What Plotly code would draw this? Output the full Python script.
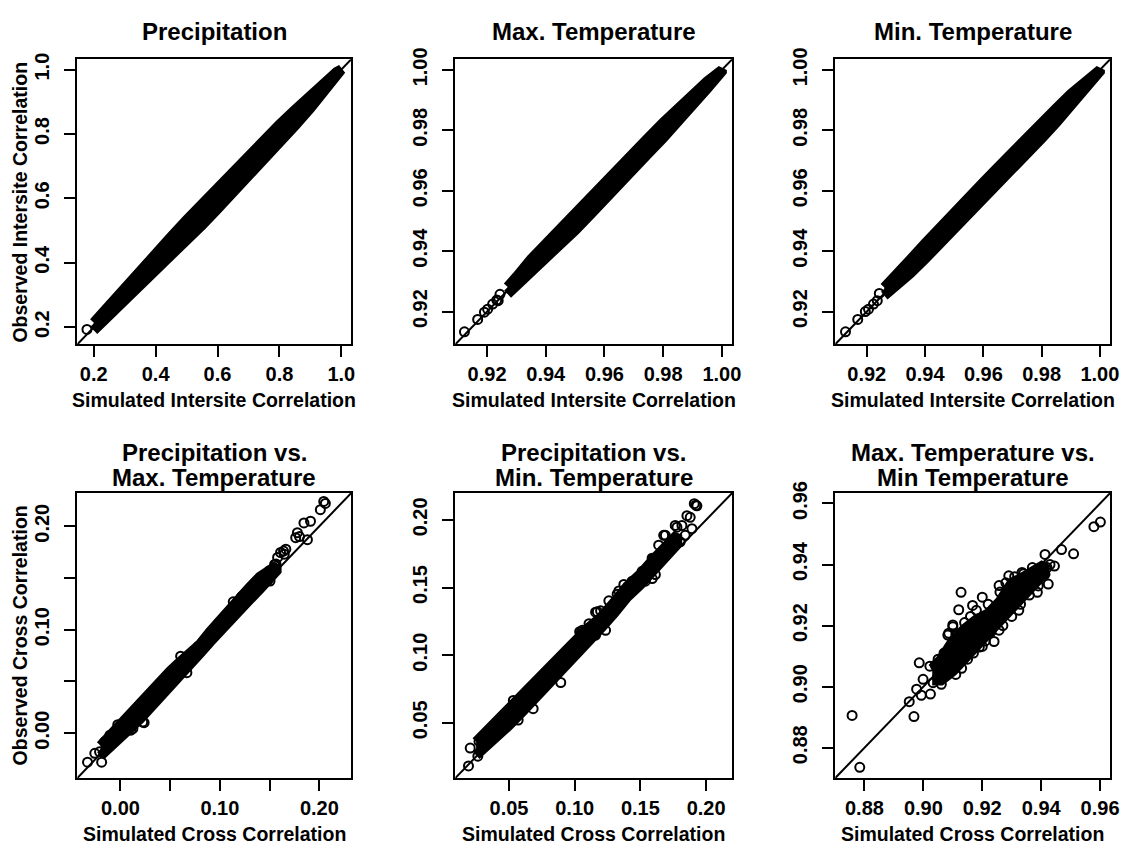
import plotly.graph_objects as go

# ---------------- data ----------------
# Top row: dense bands given as lower / upper edge of the point cloud
p1_band_x = [0.200, 0.250, 0.300, 0.350, 0.400, 0.450, 0.500, 0.550, 0.600, 0.650, 0.700, 0.750, 0.800, 0.850, 0.900, 0.950, 0.985, 1.000]
p1_band_lo = [0.190, 0.236, 0.280, 0.326, 0.372, 0.420, 0.469, 0.517, 0.567, 0.617, 0.668, 0.720, 0.772, 0.825, 0.880, 0.935, 0.976, 0.998]
p1_band_hi = [0.214, 0.269, 0.323, 0.376, 0.429, 0.481, 0.533, 0.584, 0.634, 0.684, 0.733, 0.781, 0.829, 0.875, 0.920, 0.964, 0.993, 1.000]
p1_sim = [0.178]
p1_obs = [0.193]

p2_band_x = [0.927, 0.930, 0.935, 0.940, 0.945, 0.950, 0.955, 0.960, 0.965, 0.970, 0.975, 0.980, 0.985, 0.990, 0.995, 1.000]
p2_band_lo = [0.9258, 0.9285, 0.9326, 0.9373, 0.9422, 0.9469, 0.9519, 0.9573, 0.9623, 0.9674, 0.9724, 0.9774, 0.9826, 0.9879, 0.9938, 0.9995]
p2_band_hi = [0.9282, 0.9315, 0.9374, 0.9425, 0.9477, 0.9529, 0.9579, 0.9627, 0.9677, 0.9726, 0.9776, 0.9826, 0.9872, 0.9919, 0.9962, 1.0000]
p2_sim = [0.9123, 0.9168, 0.9191, 0.9202, 0.9219, 0.9233, 0.9244, 0.9238]
p2_obs = [0.9133, 0.9174, 0.9198, 0.9208, 0.9225, 0.9238, 0.9257, 0.9236]

p3_band_x = [0.926, 0.930, 0.935, 0.940, 0.945, 0.950, 0.955, 0.960, 0.965, 0.970, 0.975, 0.980, 0.985, 0.990, 0.995, 1.000]
p3_band_lo = [0.9253, 0.9284, 0.9327, 0.9374, 0.9423, 0.9470, 0.9518, 0.9572, 0.9622, 0.9673, 0.9723, 0.9773, 0.9825, 0.9878, 0.9937, 0.9995]
p3_band_hi = [0.9280, 0.9316, 0.9373, 0.9426, 0.9476, 0.9530, 0.9580, 0.9628, 0.9678, 0.9727, 0.9777, 0.9827, 0.9873, 0.9920, 0.9963, 1.0000]
p3_sim = [0.9127, 0.9169, 0.9195, 0.9206, 0.9223, 0.9236, 0.9243]
p3_obs = [0.9133, 0.9174, 0.9200, 0.9208, 0.9225, 0.9236, 0.9260]

# Bottom row: dense core band + individual points
p4_band_x = [-0.020, -0.010, 0.000, 0.010, 0.020, 0.030, 0.040, 0.050, 0.060, 0.070, 0.080, 0.090, 0.100, 0.110, 0.120, 0.130, 0.140, 0.150, 0.157]
p4_band_lo = [-0.022, -0.014, -0.005, 0.005, 0.014, 0.024, 0.034, 0.044, 0.055, 0.066, 0.077, 0.088, 0.099, 0.109, 0.119, 0.129, 0.139, 0.148, 0.157]
p4_band_hi = [-0.012, -0.001, 0.010, 0.020, 0.030, 0.040, 0.050, 0.060, 0.069, 0.076, 0.086, 0.098, 0.110, 0.121, 0.131, 0.141, 0.151, 0.158, 0.162]
p4_sim = [-0.0331, -0.0189, -0.0258, -0.0210, -0.0159, -0.0106, -0.0027, 0.0125, 0.0105, 0.0224, 0.0238, 0.0230,
          0.0568, 0.0638, 0.0668, 0.0605, 0.0720, 0.0784, 0.0820, 0.0850, 0.0886, 0.0919, 0.0952, 0.0985,
          0.1052, 0.1117, 0.1134, 0.1151, 0.1184, 0.1216, 0.1233, 0.1300, 0.1350, 0.1365, 0.1415, 0.1481,
          0.1498, 0.1504, 0.1550, 0.1564, 0.1580, 0.1610, 0.1640, 0.1647, 0.1663, 0.1762, 0.1779, 0.1800,
          0.1845, 0.1880, 0.1911, 0.2010, 0.2044, 0.2060]
p4_obs = [-0.0280, -0.0280, -0.0195, -0.0180, -0.0083, -0.0020, 0.0082, 0.0044, 0.0029, 0.0108, 0.0101, 0.0203,
          0.0649, 0.0680, 0.0585, 0.0744, 0.0728, 0.0840, 0.0840, 0.0870, 0.0903, 0.0935, 0.0998, 0.1062,
          0.1126, 0.1190, 0.1269, 0.1189, 0.1253, 0.1317, 0.1332, 0.1380, 0.1444, 0.1460, 0.1508, 0.1475,
          0.1570, 0.1470, 0.1630, 0.1635, 0.1698, 0.1746, 0.1760, 0.1730, 0.1778, 0.1889, 0.1937, 0.1900,
          0.2032, 0.1870, 0.2048, 0.2160, 0.2239, 0.2220]

p5_band_x = [0.025, 0.030, 0.040, 0.050, 0.060, 0.070, 0.080, 0.090, 0.100, 0.110, 0.120, 0.130, 0.140, 0.150, 0.160, 0.170, 0.178]
p5_band_lo = [0.026, 0.030, 0.039, 0.048, 0.058, 0.068, 0.079, 0.090, 0.100, 0.110, 0.120, 0.131, 0.143, 0.152, 0.163, 0.173, 0.182]
p5_band_hi = [0.036, 0.042, 0.052, 0.062, 0.072, 0.082, 0.091, 0.100, 0.110, 0.120, 0.128, 0.139, 0.151, 0.160, 0.171, 0.182, 0.189]
p5_sim = [0.0192, 0.0205, 0.0263, 0.0272, 0.0533, 0.0570, 0.0684, 0.0894, 0.0924, 0.1033, 0.1038, 0.1045,
          0.1058, 0.1109, 0.1126, 0.1159, 0.1159, 0.1172, 0.1197, 0.1235, 0.1248, 0.1260, 0.1310, 0.1323,
          0.1336, 0.1374, 0.1437, 0.1513, 0.1538, 0.1589, 0.1590, 0.1600, 0.1614, 0.1639, 0.1677, 0.1690,
          0.1765, 0.1778, 0.1803, 0.1816, 0.1841, 0.1854, 0.1879, 0.1892, 0.1910, 0.1922, 0.1930]
p5_obs = [0.0181, 0.0313, 0.0253, 0.0362, 0.0665, 0.0520, 0.0604, 0.0798, 0.1003, 0.1112, 0.1173, 0.1160,
          0.1184, 0.1233, 0.1184, 0.1148, 0.1318, 0.1321, 0.1329, 0.1184, 0.1293, 0.1402, 0.1366, 0.1451,
          0.1475, 0.1523, 0.1547, 0.1620, 0.1547, 0.1717, 0.1566, 0.1717, 0.1596, 0.1813, 0.1886, 0.1886,
          0.1959, 0.1946, 0.1838, 0.1959, 0.1886, 0.2031, 0.2019, 0.1935, 0.2120, 0.2109, 0.2104]

p6_band_x = [0.903, 0.906, 0.910, 0.914, 0.918, 0.922, 0.926, 0.930, 0.934, 0.938, 0.941]
p6_band_lo = [0.902, 0.902, 0.905, 0.909, 0.913, 0.917, 0.921, 0.926, 0.929, 0.933, 0.937]
p6_band_hi = [0.906, 0.909, 0.915, 0.919, 0.922, 0.924, 0.928, 0.934, 0.936, 0.938, 0.940]
p6_sim = [0.8758, 0.8784, 0.8952, 0.8968, 0.8986, 0.8977, 0.8993, 0.9024, 0.8999, 0.9022, 0.9033, 0.9061,
          0.9083, 0.9100, 0.9086, 0.9100, 0.9120, 0.9128, 0.9167, 0.9200, 0.9200, 0.9240, 0.9257, 0.9257,
          0.9290, 0.9324, 0.9335, 0.9387, 0.9413, 0.9413, 0.9424, 0.9469, 0.9510, 0.9579, 0.9601,
          0.9050, 0.9070, 0.9090, 0.9040, 0.9110, 0.9130, 0.9150, 0.9170, 0.9190, 0.9210, 0.9230, 0.9140,
          0.9160, 0.9180, 0.9220, 0.9260, 0.9280, 0.9310, 0.9340, 0.9370, 0.9270, 0.9300, 0.9330, 0.9360,
          0.9390, 0.9420, 0.9430, 0.9445, 0.9110, 0.9070]
p6_obs = [0.8906, 0.8736, 0.8951, 0.8902, 0.9078, 0.8992, 0.8972, 0.8976, 0.9024, 0.9067, 0.9013, 0.9008,
          0.9169, 0.9196, 0.9175, 0.9202, 0.9252, 0.9309, 0.9266, 0.9293, 0.9132, 0.9148, 0.9331, 0.9185,
          0.9363, 0.9250, 0.9374, 0.9309, 0.9433, 0.9368, 0.9336, 0.9449, 0.9435, 0.9524, 0.9539,
          0.9090, 0.9110, 0.9130, 0.9070, 0.9040, 0.9060, 0.9090, 0.9110, 0.9130, 0.9150, 0.9180, 0.9210,
          0.9230, 0.9250, 0.9270, 0.9310, 0.9340, 0.9360, 0.9370, 0.9390, 0.9200, 0.9230, 0.9270, 0.9300,
          0.9330, 0.9390, 0.9400, 0.9395, 0.9170, 0.9040]

titles = [["Precipitation"], ["Max. Temperature"], ["Min. Temperature"],
          ["Precipitation vs.", "Max. Temperature"], ["Precipitation vs.", "Min. Temperature"],
          ["Max. Temperature vs.", "Min Temperature"]]
x_titles = ["Simulated Intersite Correlation"] * 3 + ["Simulated Cross Correlation"] * 3
y_titles = ["Observed Intersite Correlation", None, None, "Observed Cross Correlation", None, None]

ranges = [[0.147, 1.032], [0.9092, 1.0035], [0.9092, 1.0035],
          [-0.0433, 0.2320], [0.0092, 0.2198], [0.8701, 0.9634]]
tick_vals = [[0.2, 0.4, 0.6, 0.8, 1.0],
             [0.92, 0.94, 0.96, 0.98, 1.00],
             [0.92, 0.94, 0.96, 0.98, 1.00],
             [0.00, 0.05, 0.10, 0.15, 0.20],
             [0.05, 0.10, 0.15, 0.20],
             [0.88, 0.90, 0.92, 0.94, 0.96]]
tick_text = [["0.2", "0.4", "0.6", "0.8", "1.0"],
             ["0.92", "0.94", "0.96", "0.98", "1.00"],
             ["0.92", "0.94", "0.96", "0.98", "1.00"],
             ["0.00", "", "0.10", "", "0.20"],
             ["0.05", "0.10", "0.15", "0.20"],
             ["0.88", "0.90", "0.92", "0.94", "0.96"]]

bands = [(p1_band_x, p1_band_lo, p1_band_hi), (p2_band_x, p2_band_lo, p2_band_hi),
         (p3_band_x, p3_band_lo, p3_band_hi), (p4_band_x, p4_band_lo, p4_band_hi),
         (p5_band_x, p5_band_lo, p5_band_hi), (p6_band_x, p6_band_lo, p6_band_hi)]
points = [(p1_sim, p1_obs), (p2_sim, p2_obs), (p3_sim, p3_obs),
          (p4_sim, p4_obs), (p5_sim, p5_obs), (p6_sim, p6_obs)]

# ---------------- layout (pixel boxes) ----------------
W, H = 1132, 847
boxes = [(78, 354, 48, 337), (459, 738, 48, 337), (842, 1119, 48, 337),
         (78, 354, 488, 777), (459, 738, 488, 777), (842, 1119, 488, 777)]

FONT = "Liberation Sans, Arial, Helvetica, sans-serif"
TITLE_SIZE = 24
AXT_SIZE = 19.5
TICK_SIZE = 20

fig = go.Figure()
layout = dict(width=W, height=H, margin=dict(l=0, r=0, t=0, b=0),
              paper_bgcolor="white", plot_bgcolor="white", showlegend=False,
              annotations=[])

for i in range(6):
    n = "" if i == 0 else str(i + 1)
    xa, ya = "x" + n, "y" + n
    l, r, t, b = boxes[i]
    common = dict(range=ranges[i], tickmode="array", tickvals=tick_vals[i], ticktext=tick_text[i],
                  ticks="outside", ticklen=11, tickwidth=2, tickcolor="black",
                  showline=True, linewidth=2, linecolor="black", mirror=True,
                  showgrid=False, zeroline=False,
                  tickfont=dict(family=FONT, size=TICK_SIZE, color="black", weight="bold"))
    layout["xaxis" + n] = dict(common, domain=[l / W, r / W], anchor=ya, ticklabelstandoff=0)
    layout["yaxis" + n] = dict(common, domain=[1 - b / H, 1 - t / H], anchor=xa, tickangle=-90,
                               ticklabelstandoff=7)

    # band (dense cloud)
    bx, blo, bhi = bands[i]
    fig.add_trace(go.Scatter(x=list(bx) + list(bx)[::-1], y=list(blo) + list(bhi)[::-1],
                             xaxis=xa, yaxis=ya, mode="lines", fill="toself",
                             fillcolor="black", line=dict(color="black", width=10),
                             hoverinfo="skip"))
    # individual points
    sx, sy = points[i]
    fig.add_trace(go.Scatter(x=sx, y=sy, xaxis=xa, yaxis=ya, mode="markers",
                             marker=dict(symbol="circle-open", size=9, color="black",
                                         line=dict(width=2, color="black"))))
    # 1:1 line
    lo, hi = ranges[i]
    fig.add_trace(go.Scatter(x=[lo, hi], y=[lo, hi], xaxis=xa, yaxis=ya, mode="lines",
                             line=dict(color="black", width=2), hoverinfo="skip"))

    cx = (l + r) / 2 / W
    # titles
    if len(titles[i]) == 1:
        layout["annotations"].append(dict(text=titles[i][0], x=cx, y=1 - 20 / H, xref="paper", yref="paper",
                                          showarrow=False, xanchor="center", yanchor="middle",
                                          font=dict(family=FONT, size=TITLE_SIZE, color="black", weight="bold")))
    else:
        for k, line in enumerate(titles[i]):
            yy = t - 41 + 25 * k
            layout["annotations"].append(dict(text=line, x=cx, y=1 - yy / H, xref="paper", yref="paper",
                                              showarrow=False, xanchor="center", yanchor="middle",
                                              font=dict(family=FONT, size=TITLE_SIZE, color="black", weight="bold")))
    # x axis title
    layout["annotations"].append(dict(text=x_titles[i], x=cx, y=1 - (b + 57) / H, xref="paper", yref="paper",
                                      showarrow=False, xanchor="center", yanchor="middle",
                                      font=dict(family=FONT, size=AXT_SIZE, color="black", weight="bold")))
    if y_titles[i]:
        layout["annotations"].append(dict(text=y_titles[i], x=20 / W, y=1 - (t + b) / 2 / H,
                                          xref="paper", yref="paper", textangle=-90,
                                          showarrow=False, xanchor="center", yanchor="middle",
                                          font=dict(family=FONT, size=AXT_SIZE, color="black", weight="bold")))

fig.update_layout(**layout)
fig.write_html("out.html", post_script="document.body.style.margin='0px';")
